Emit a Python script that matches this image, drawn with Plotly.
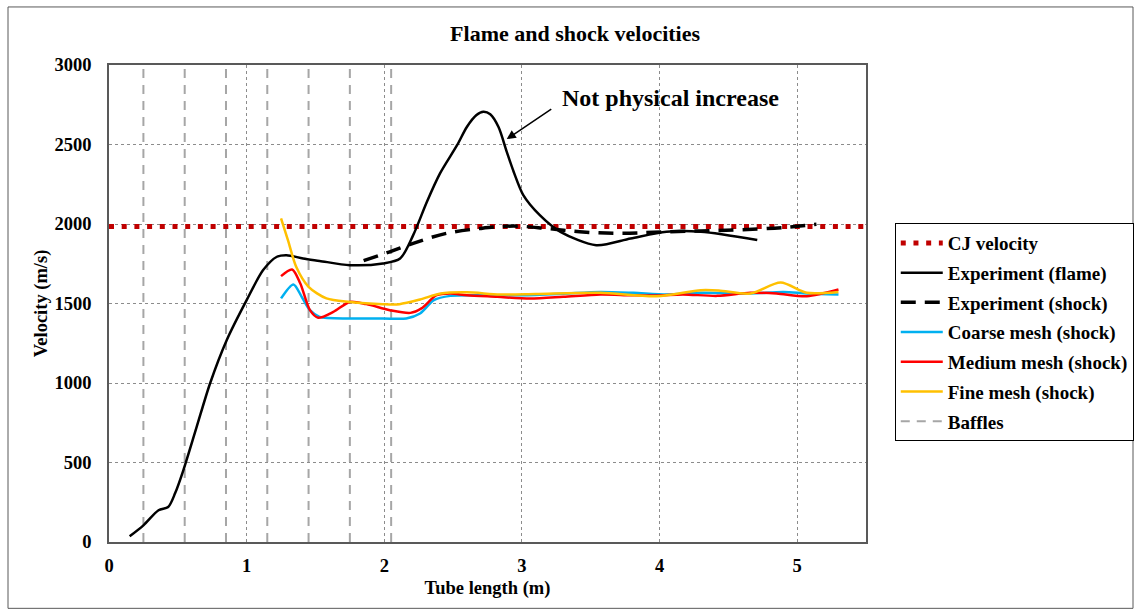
import plotly.graph_objects as go

# ---- data ----
cj_x = [0, 5.5]
cj_y = [1985, 1985]

flame_x = [0.15, 0.25, 0.36, 0.43, 0.48, 0.54, 0.637, 0.734, 0.855, 1.0, 1.12, 1.22, 1.29, 1.41, 1.53, 1.75,
           1.99, 2.115, 2.21, 2.31, 2.405, 2.53, 2.60, 2.67, 2.72, 2.77, 2.83, 2.89, 2.94, 3.01, 3.13, 3.28,
           3.54, 3.79, 4.05, 4.3, 4.71]
flame_y = [36, 105, 200, 220, 306, 451, 724, 997, 1269, 1521, 1710, 1794, 1804, 1783, 1768, 1741,
           1752, 1783, 1930, 2140, 2318, 2497, 2610, 2685, 2706, 2690, 2610, 2454, 2329, 2182, 2056, 1951,
           1867, 1909, 1951, 1951, 1899]

shock_x = [1.85, 2.04, 2.21, 2.45, 2.70, 2.94, 3.18, 3.42, 3.71, 4.05, 4.54, 4.9, 5.14]
shock_y = [1770, 1825, 1878, 1941, 1972, 1987, 1972, 1951, 1941, 1951, 1962, 1978, 1999]

coarse_x = [1.25, 1.34, 1.40, 1.46, 1.53, 1.75, 1.99, 2.16, 2.26, 2.36, 2.48, 2.7, 3.0, 3.3, 3.57, 3.81,
            4.05, 4.30, 4.66, 4.90, 5.07, 5.30]
coarse_y = [1532, 1620, 1542, 1458, 1416, 1406, 1406, 1406, 1437, 1521, 1548, 1552, 1552, 1562, 1573, 1567,
            1557, 1567, 1563, 1573, 1563, 1557]

medium_x = [1.25, 1.33, 1.39, 1.46, 1.52, 1.63, 1.75, 1.87, 2.04, 2.19, 2.27, 2.38, 2.48, 2.60, 2.82, 3.06,
            3.30, 3.57, 3.79, 3.98, 4.17, 4.42, 4.66, 4.85, 5.07, 5.30]
medium_y = [1672, 1714, 1626, 1458, 1410, 1447, 1510, 1496, 1458, 1441, 1469, 1552, 1563, 1552, 1542, 1531,
            1542, 1557, 1552, 1550, 1557, 1548, 1567, 1563, 1546, 1588]

fine_x = [1.25, 1.30, 1.36, 1.45, 1.58, 1.75, 1.99, 2.11, 2.26, 2.41, 2.60, 2.84, 3.1, 3.57, 3.98, 4.30,
          4.43, 4.66, 4.88, 5.07, 5.30]
fine_y = [2035, 1899, 1731, 1605, 1532, 1510, 1496, 1496, 1525, 1563, 1570, 1557, 1560, 1567, 1546, 1584,
          1582, 1563, 1632, 1567, 1573]

baffle_pos = [0.25, 0.55, 0.85, 1.15, 1.45, 1.75, 2.05]
baffle_range = [0, 3000]

x_ticks = [0, 1, 2, 3, 4, 5]
y_ticks = [0, 500, 1000, 1500, 2000, 2500, 3000]

FONT = "Liberation Serif"

fig = go.Figure()

bx, by = [], []
for b in baffle_pos:
    bx += [b, b, None]
    by += [baffle_range[0], baffle_range[1], None]

fig.add_trace(go.Scatter(x=bx, y=by, mode="lines", name="Baffles", legendgroup="g7", legendrank=7,
                         line=dict(color="#A6A6A6", width=2, dash="9px,7px")))
fig.add_trace(go.Scatter(x=cj_x, y=cj_y, mode="lines", name="CJ velocity", legendgroup="g1", legendrank=1,
                         line=dict(color="#C00000", width=5, dash="5px,7.7px")))
fig.add_trace(go.Scatter(x=flame_x, y=flame_y, mode="lines", name="Experiment (flame)", legendgroup="g2",
                         legendrank=2, line=dict(color="black", width=2.5, shape="spline", smoothing=0.8)))
fig.add_trace(go.Scatter(x=shock_x, y=shock_y, mode="lines", name="Experiment (shock)", legendgroup="g3",
                         legendrank=3, line=dict(color="black", width=3.5, dash="15px,9px", shape="spline")))
fig.add_trace(go.Scatter(x=coarse_x, y=coarse_y, mode="lines", name="Coarse mesh (shock)", legendgroup="g4",
                         legendrank=4, line=dict(color="#00B0F0", width=2.5, shape="spline", smoothing=0.8)))
fig.add_trace(go.Scatter(x=medium_x, y=medium_y, mode="lines", name="Medium mesh (shock)", legendgroup="g5",
                         legendrank=5, line=dict(color="#FF0000", width=2.5, shape="spline", smoothing=0.8)))
fig.add_trace(go.Scatter(x=fine_x, y=fine_y, mode="lines", name="Fine mesh (shock)", legendgroup="g6",
                         legendrank=6, line=dict(color="#FFC000", width=2.5, shape="spline", smoothing=0.8)))

axis_common = dict(
    showline=True, mirror=True, linecolor="#595959", linewidth=1.5,
    showgrid=True, gridcolor="#8c8c8c", gridwidth=1, griddash="dot",
    zeroline=False, ticks="",
    tickfont=dict(family=FONT, size=18.5, color="black", weight="bold"),
)

fig.update_layout(
    width=1141, height=616,
    margin=dict(l=109, r=275, t=65, b=74, autoexpand=False),
    paper_bgcolor="white", plot_bgcolor="white",
    title=dict(text="Flame and shock velocities", x=0.504, xref="container", xanchor="center",
               y=1 - 33 / 616, yref="container", yanchor="middle",
               font=dict(family=FONT, size=22, color="black", weight="bold")),
    xaxis=dict(range=[0, 5.5], tickvals=x_ticks, ticklabelstandoff=6,
               title=dict(text="Tube length (m)", standoff=6,
                          font=dict(family=FONT, size=18.5, color="black", weight="bold")),
               **axis_common),
    yaxis=dict(range=[0, 3000], tickvals=y_ticks, ticklabelstandoff=12,
               title=dict(text="Velocity (m/s)", standoff=2,
                          font=dict(family=FONT, size=18.5, color="black", weight="bold")),
               **axis_common),
    legend=dict(x=1.038, xanchor="left", y=0.6686, yanchor="top",
                bordercolor="black", borderwidth=1, bgcolor="white",
                font=dict(family=FONT, size=19, color="black", weight="bold"),
                tracegroupgap=2, traceorder="grouped", itemwidth=42),
    showlegend=True,
)

# annotation
fig.add_annotation(x=2.89, y=2534, xref="x", yref="y", ax=46, ay=-31, text="",
                   showarrow=True, arrowhead=2, arrowsize=1.2, arrowwidth=1.5, arrowcolor="black")
fig.add_annotation(x=3.28, y=2795, xref="x", yref="y", text="Not physical increase", showarrow=False,
                   xanchor="left", yanchor="middle",
                   font=dict(family=FONT, size=24, color="black", weight="bold"))

# outer chart frame
fig.add_shape(type="rect", xref="paper", yref="paper",
              x0=(8 - 109) / 757, x1=(1133 - 109) / 757,
              y0=(541.7 - 608) / 476.7, y1=(541.7 - 7) / 476.7,
              line=dict(color="#595959", width=1), layer="below")

fig.write_html("out.html")
